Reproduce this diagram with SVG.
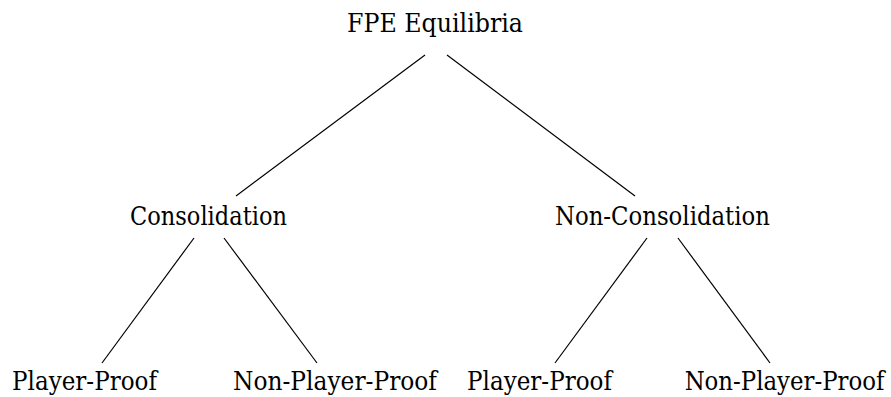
<svg xmlns="http://www.w3.org/2000/svg" width="891" height="397" viewBox="0 0 891 397">
<style>
  .lbl { font-family: "DejaVu Serif", "Liberation Serif", serif; font-size: 26px; fill: #000; text-anchor: middle; }
  .edge { stroke: #000; stroke-width: 1.2; fill: none; }
</style>
<rect width="891" height="397" fill="#fff"/>
<g id="connectors">
  <line class="edge" x1="425" y1="55" x2="236" y2="196"/>
  <line class="edge" x1="447" y1="55" x2="635" y2="196"/>
  <line class="edge" x1="194" y1="238" x2="102" y2="363"/>
  <line class="edge" x1="224" y1="238" x2="317" y2="363"/>
  <line class="edge" x1="647" y1="238" x2="555" y2="363"/>
  <line class="edge" x1="678" y1="238" x2="770" y2="363"/>
</g>
<g id="root"><text class="lbl" x="435" y="32" textLength="176" lengthAdjust="spacingAndGlyphs">FPE Equilibria</text></g>
<g id="consolidation"><text class="lbl" x="208.5" y="225" textLength="157" lengthAdjust="spacingAndGlyphs">Consolidation</text></g>
<g id="non-consolidation"><text class="lbl" x="662.5" y="225" textLength="215" lengthAdjust="spacingAndGlyphs">Non-Consolidation</text></g>
<g id="c-player-proof"><text class="lbl" x="84.5" y="390" textLength="145" lengthAdjust="spacingAndGlyphs">Player-Proof</text></g>
<g id="c-non-player-proof"><text class="lbl" x="335" y="390" textLength="204" lengthAdjust="spacingAndGlyphs">Non-Player-Proof</text></g>
<g id="nc-player-proof"><text class="lbl" x="539.5" y="390" textLength="145" lengthAdjust="spacingAndGlyphs">Player-Proof</text></g>
<g id="nc-non-player-proof"><text class="lbl" transform="translate(784.5 390) scale(0.85 1)" x="0" y="0" textLength="235" lengthAdjust="spacingAndGlyphs">Non-Player-Proof</text></g>
</svg>
